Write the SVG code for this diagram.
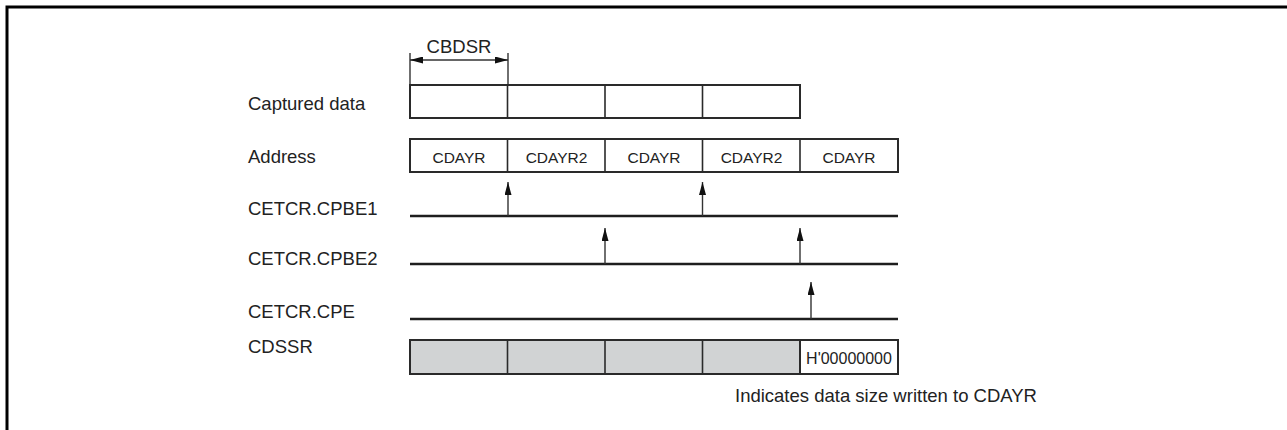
<svg xmlns="http://www.w3.org/2000/svg" width="1287" height="430" viewBox="0 0 1287 430">
<style>
text{font-family:"Liberation Sans",Arial,Helvetica,sans-serif;fill:#222}
.lbl{font-size:18.5px}
.cell{font-size:15.5px;text-anchor:middle}
.box{fill:#fff;stroke:#2a2a2a;stroke-width:2}
.grey{fill:#d1d3d4;stroke:#2a2a2a;stroke-width:2}
.div{stroke:#2a2a2a;stroke-width:1.6}
.sig{stroke:#1e1e1e;stroke-width:2.6}
.arr{stroke:#333;stroke-width:1.4;fill:none}
.frame{stroke:#000;stroke-width:3;fill:none}
</style>
<defs>
<marker id="ah" viewBox="0 0 13 7" refX="13" refY="3.5" markerWidth="13" markerHeight="7" markerUnits="userSpaceOnUse" orient="auto-start-reverse">
<path d="M0,0 L13,3.5 L0,7 z" fill="#111"/>
</marker>
</defs>
<path class="frame" d="M7,430 L7,7 L1287,7"/>
<g id="labels">
<text class="lbl" x="248" y="110">Captured data</text>
<text class="lbl" x="248" y="163">Address</text>
<text class="lbl" x="248" y="215">CETCR.CPBE1</text>
<text class="lbl" x="248" y="265">CETCR.CPBE2</text>
<text class="lbl" x="248" y="318">CETCR.CPE</text>
<text class="lbl" x="248" y="353">CDSSR</text>
<text class="lbl" x="735" y="402">Indicates data size written to CDAYR</text>
</g>
<g id="cbdsr">
<line class="arr" x1="410" y1="53" x2="410" y2="85"/>
<line class="arr" x1="508" y1="53" x2="508" y2="85"/>
<line class="arr" x1="410" y1="60" x2="508" y2="60" marker-start="url(#ah)" marker-end="url(#ah)"/>
<text class="lbl" x="459" y="53" text-anchor="middle">CBDSR</text>
</g>
<g id="captured">
<rect class="box" x="410" y="85" width="390" height="33"/>
<line class="div" x1="507.5" y1="85" x2="507.5" y2="118"/>
<line class="div" x1="605" y1="85" x2="605" y2="118"/>
<line class="div" x1="702.5" y1="85" x2="702.5" y2="118"/>
</g>
<g id="address">
<rect class="box" x="410" y="139" width="488" height="33"/>
<line class="div" x1="507.5" y1="139" x2="507.5" y2="172"/>
<line class="div" x1="605" y1="139" x2="605" y2="172"/>
<line class="div" x1="702.5" y1="139" x2="702.5" y2="172"/>
<line class="div" x1="800" y1="139" x2="800" y2="172"/>
<text class="cell" x="459" y="163">CDAYR</text>
<text class="cell" x="556.5" y="163">CDAYR2</text>
<text class="cell" x="654" y="163">CDAYR</text>
<text class="cell" x="751.5" y="163">CDAYR2</text>
<text class="cell" x="849" y="163">CDAYR</text>
</g>
<g id="cdssr">
<rect class="grey" x="410" y="340" width="390" height="34"/>
<rect class="box" x="800" y="340" width="98" height="34"/>
<line class="div" x1="507.5" y1="340" x2="507.5" y2="374"/>
<line class="div" x1="605" y1="340" x2="605" y2="374"/>
<line class="div" x1="702.5" y1="340" x2="702.5" y2="374"/>
<text class="cell" x="849" y="364" style="font-size:16px">H'00000000</text>
</g>
<g id="signals">
<line class="sig" x1="410" y1="216" x2="898" y2="216"/>
<line class="sig" x1="410" y1="264" x2="898" y2="264"/>
<line class="sig" x1="410" y1="319" x2="898" y2="319"/>
</g>
<g id="connectors">
<line class="arr" x1="508" y1="216" x2="508" y2="182" marker-end="url(#ah)"/>
<line class="arr" x1="702.5" y1="216" x2="702.5" y2="182" marker-end="url(#ah)"/>
<line class="arr" x1="605" y1="264" x2="605" y2="228" marker-end="url(#ah)"/>
<line class="arr" x1="800" y1="264" x2="800" y2="228" marker-end="url(#ah)"/>
<line class="arr" x1="811" y1="319" x2="811" y2="282" marker-end="url(#ah)"/>
</g>
</svg>
